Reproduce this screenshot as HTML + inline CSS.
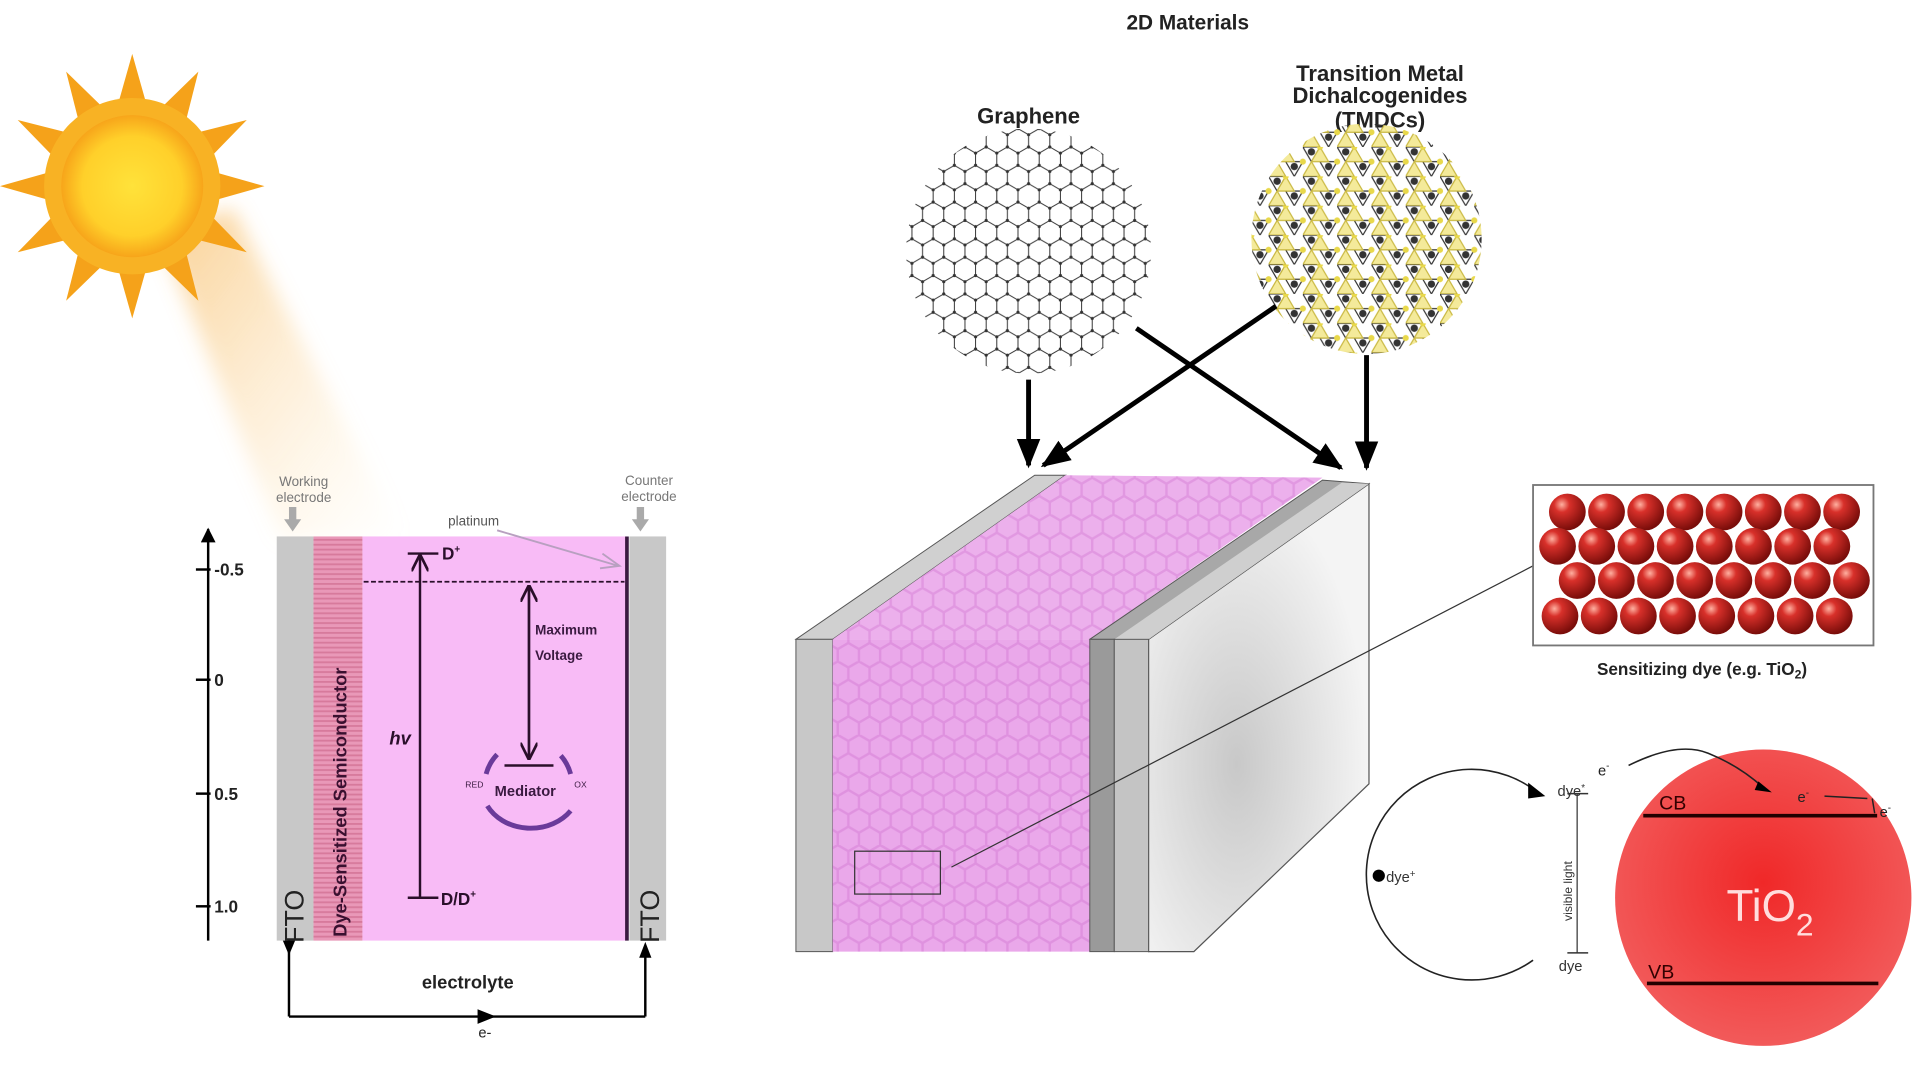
<!DOCTYPE html>
<html><head><meta charset="utf-8"><style>
html,body{margin:0;padding:0;background:#fff;}
svg{display:block;}
text{font-family:"Liberation Sans",sans-serif;}
</style></head><body>
<svg width="1920" height="1079" viewBox="0 0 1568 881" preserveAspectRatio="none" xmlns="http://www.w3.org/2000/svg">
<defs>
<radialGradient id="sunc" cx="50%" cy="50%" r="50%"><stop offset="0" stop-color="#ffe23a"/><stop offset="0.7" stop-color="#ffd02a"/><stop offset="1" stop-color="#f7a51a"/></radialGradient>
<linearGradient id="beam" x1="0" y1="0" x2="1" y2="1"><stop offset="0" stop-color="#f6b04a" stop-opacity="0.6"/><stop offset="1" stop-color="#fde2b0" stop-opacity="0"/></linearGradient>
<filter id="blur"><feGaussianBlur stdDeviation="8"/></filter>
<pattern id="hex" width="17.32" height="30" patternUnits="userSpaceOnUse">
<path d="M0,5 L8.66,0 L17.32,5 M0,5 L0,15 L8.66,20 L17.32,15 M8.66,20 L8.66,30 M17.32,5 L17.32,15" fill="none" stroke="#333" stroke-width="0.8"/>
<circle cx="0" cy="5" r="1.3" fill="#333"/><circle cx="8.66" cy="0" r="1.3" fill="#333"/><circle cx="17.32" cy="5" r="1.3" fill="#333"/><circle cx="0" cy="15" r="1.3" fill="#333"/><circle cx="8.66" cy="20" r="1.3" fill="#333"/><circle cx="17.32" cy="15" r="1.3" fill="#333"/><circle cx="8.66" cy="30" r="1.3" fill="#333"/>
</pattern>
<pattern id="hexp" width="17.32" height="30" patternUnits="userSpaceOnUse">
<path d="M0,5 L8.66,0 L17.32,5 M0,5 L0,15 L8.66,20 L17.32,15 M8.66,20 L8.66,30 M17.32,5 L17.32,15" fill="none" stroke="#c050c0" stroke-width="2" stroke-opacity="0.25"/>
</pattern>
<pattern id="tmd" width="28" height="24" patternUnits="userSpaceOnUse">
<path d="M0,0 L14,0 L7,12 Z M14,12 L28,12 L21,24 Z" fill="none" stroke="#333" stroke-width="1"/>
<path d="M7,12 L14,0 L21,12 Z M0,24 L7,12 L14,24Z" fill="#f4ea9a" stroke="#c9b840" stroke-width="1"/>
<circle cx="7" cy="4" r="3" fill="#333"/><circle cx="21" cy="16" r="3" fill="#333"/>
<circle cx="14" cy="0" r="2.5" fill="#e8d84a"/><circle cx="0" cy="12" r="2.5" fill="#e8d84a"/><circle cx="28" cy="12" r="2.5" fill="#e8d84a"/>
</pattern>
<pattern id="stripe" width="4" height="4" patternUnits="userSpaceOnUse"><rect width="4" height="4" fill="#e998b8"/><rect width="4" height="1.5" fill="#d77a9c"/></pattern>
<radialGradient id="ball" cx="35%" cy="30%" r="70%"><stop offset="0" stop-color="#ffb0a0"/><stop offset="0.3" stop-color="#d8302a"/><stop offset="1" stop-color="#7a0d0a"/></radialGradient>
<radialGradient id="tio" cx="50%" cy="45%" r="55%"><stop offset="0" stop-color="#f02828"/><stop offset="1" stop-color="#f25a5a"/></radialGradient>
<radialGradient id="side" cx="40%" cy="60%" r="60%"><stop offset="0" stop-color="#c8c8c8"/><stop offset="1" stop-color="#f4f4f4"/></radialGradient>
<clipPath id="gc"><circle cx="840" cy="205" r="100"/></clipPath>
<clipPath id="tc"><circle cx="1116" cy="195" r="94"/></clipPath>
<marker id="ah" viewBox="0 0 10 10" refX="9" refY="5" markerWidth="6" markerHeight="6" orient="auto"><path d="M0,0 L10,5 L0,10 Z" fill="#000"/></marker>
<marker id="ahs" viewBox="0 0 10 10" refX="9" refY="5" markerWidth="6" markerHeight="6" orient="auto"><path d="M0,1 L10,5 L0,9 Z" fill="#000"/></marker>
<marker id="ao" viewBox="0 0 10 10" refX="9" refY="5" markerWidth="7" markerHeight="7" orient="auto"><path d="M0,0 L10,5 L0,10" fill="none" stroke="#2a0f2a" stroke-width="1.6"/></marker>
</defs>

<!-- beam -->
<polygon points="130,190 190,170 330,440 230,440" fill="url(#beam)" filter="url(#blur)"/>
<!-- sun -->
<g transform="translate(108,152)">
<g fill="#f5a21a">
<polygon points="0,-108 13,-62 -13,-62" transform="rotate(0)"/>
<polygon points="0,-108 13,-62 -13,-62" transform="rotate(30)"/>
<polygon points="0,-108 13,-62 -13,-62" transform="rotate(60)"/>
<polygon points="0,-108 13,-62 -13,-62" transform="rotate(90)"/>
<polygon points="0,-108 13,-62 -13,-62" transform="rotate(120)"/>
<polygon points="0,-108 13,-62 -13,-62" transform="rotate(150)"/>
<polygon points="0,-108 13,-62 -13,-62" transform="rotate(180)"/>
<polygon points="0,-108 13,-62 -13,-62" transform="rotate(210)"/>
<polygon points="0,-108 13,-62 -13,-62" transform="rotate(240)"/>
<polygon points="0,-108 13,-62 -13,-62" transform="rotate(270)"/>
<polygon points="0,-108 13,-62 -13,-62" transform="rotate(300)"/>
<polygon points="0,-108 13,-62 -13,-62" transform="rotate(330)"/>
</g>
<circle r="72" fill="#f8b224"/>
<circle r="58" fill="url(#sunc)"/>
</g>

<!-- left diagram -->
<line x1="170" y1="768" x2="170" y2="432" stroke="#000" stroke-width="2" marker-end="url(#ah)"/>
<g stroke="#000" stroke-width="2"><line x1="160" y1="465" x2="172" y2="465"/><line x1="160" y1="555" x2="172" y2="555"/><line x1="160" y1="648" x2="172" y2="648"/><line x1="160" y1="740" x2="172" y2="740"/></g>
<g font-size="14" font-weight="bold" fill="#222"><text x="175" y="470">-0.5</text><text x="175" y="560">0</text><text x="175" y="653">0.5</text><text x="175" y="745">1.0</text></g>
<rect x="226" y="438" width="30" height="330" fill="#c8c8c8"/>
<rect x="256" y="438" width="40" height="330" fill="url(#stripe)"/>
<rect x="296" y="438" width="216" height="330" fill="#f8bbf6"/>
<rect x="514" y="438" width="30" height="330" fill="#c8c8c8"/>
<line x1="512" y1="438" x2="512" y2="768" stroke="#3a1a40" stroke-width="3"/>
<text transform="translate(283,765) rotate(-90)" font-size="15" font-weight="bold" fill="#3a1030">Dye-Sensitized Semiconductor</text>
<text transform="translate(248,770) rotate(-90)" font-size="22" fill="#222">FTO</text>
<text transform="translate(538,770) rotate(-90)" font-size="22" fill="#222">FTO</text>
<g font-size="11" fill="#777" text-anchor="middle"><text x="248" y="397">Working</text><text x="248" y="410">electrode</text><text x="530" y="396">Counter</text><text x="530" y="409">electrode</text></g>
<g fill="#aaa"><polygon points="236,414 242,414 242,424 246,424 239,434 232,424 236,424"/><polygon points="520,414 526,414 526,424 530,424 523,434 516,424 520,424"/></g>
<text x="366" y="429" font-size="11" fill="#555">platinum</text>
<line x1="406" y1="433" x2="505" y2="462" stroke="#b8a0c0" stroke-width="1.5"/><path d="M492,452 L506,462 L490,464" fill="none" stroke="#b8a0c0" stroke-width="1.5"/>
<line x1="333" y1="452" x2="358" y2="452" stroke="#2a0f2a" stroke-width="2"/>
<line x1="333" y1="733" x2="358" y2="733" stroke="#2a0f2a" stroke-width="2"/>
<line x1="343" y1="733" x2="343" y2="454" stroke="#2a0f2a" stroke-width="2" marker-end="url(#ao)"/>
<text x="361" y="457" font-size="14" font-weight="bold" fill="#2a0f2a">D<tspan font-size="8" dy="-6">+</tspan></text>
<text x="360" y="739" font-size="14" font-weight="bold" fill="#2a0f2a">D/D<tspan font-size="8" dy="-6">+</tspan></text>
<text x="318" y="608" font-size="15" font-style="italic" font-weight="bold" fill="#2a0f2a">hv</text>
<line x1="297" y1="475" x2="510" y2="475" stroke="#2a0f2a" stroke-width="1.5" stroke-dasharray="4,2"/>
<line x1="432" y1="620" x2="432" y2="479" stroke="#2a0f2a" stroke-width="2" marker-end="url(#ao)"/>
<line x1="432" y1="480" x2="432" y2="619" stroke="#2a0f2a" stroke-width="2" marker-end="url(#ao)"/>
<line x1="412" y1="625" x2="452" y2="625" stroke="#2a0f2a" stroke-width="2"/>
<text x="437" y="518" font-size="11" font-weight="bold" fill="#3a1a40">Maximum</text>
<text x="437" y="539" font-size="11" font-weight="bold" fill="#3a1a40">Voltage</text>
<text x="404" y="650" font-size="12" font-weight="bold" fill="#3a1a40">Mediator</text>
<text x="380" y="643" font-size="7" fill="#3a1a40">RED</text><text x="469" y="643" font-size="7" fill="#3a1a40">OX</text>
<path d="M458,617 A37,37 0 0 1 466,632" fill="none" stroke="#6a3a9a" stroke-width="4"/>
<path d="M406,616 A37,37 0 0 0 397,632" fill="none" stroke="#6a3a9a" stroke-width="4"/>
<path d="M398,658 A40,34 0 0 0 466,662" fill="none" stroke="#6a3a9a" stroke-width="4"/>
<line x1="236" y1="768" x2="236" y2="830" stroke="#000" stroke-width="2"/><polygon points="231,768 241,768 236,780" fill="#000"/>
<line x1="236" y1="830" x2="527" y2="830" stroke="#000" stroke-width="2"/>
<polygon points="390,824 405,830 390,836" fill="#000"/>
<line x1="527" y1="830" x2="527" y2="772" stroke="#000" stroke-width="2"/><polygon points="522,782 532,782 527,769" fill="#000"/>
<text x="382" y="807" font-size="15" font-weight="bold" text-anchor="middle" fill="#222">electrolyte</text>
<text x="396" y="847" font-size="12" text-anchor="middle" fill="#222">e-</text>

<!-- titles -->
<text x="970" y="24" font-size="17" font-weight="bold" text-anchor="middle" fill="#222">2D Materials</text>
<text x="840" y="101" font-size="18" font-weight="bold" text-anchor="middle" fill="#222">Graphene</text>
<g font-size="18" font-weight="bold" text-anchor="middle" fill="#222"><text x="1127" y="66">Transition Metal</text><text x="1127" y="84">Dichalcogenides</text><text x="1127" y="104">(TMDCs)</text></g>

<!-- graphene & tmdc -->
<g clip-path="url(#gc)"><rect x="735" y="100" width="210" height="210" fill="url(#hex)"/></g>
<g clip-path="url(#tc)"><rect x="1020" y="100" width="195" height="195" fill="url(#tmd)"/></g>

<!-- arrows -->
<g stroke="#000" stroke-width="4" marker-end="url(#ahs)">
<line x1="840" y1="310" x2="840" y2="380"/>
<line x1="928" y1="268" x2="1095" y2="382"/>
<line x1="1042" y1="250" x2="852" y2="380"/>
<line x1="1116" y1="290" x2="1116" y2="382"/>
</g>

<!-- 3D box -->
<polygon points="938,522 1118,395 1118,640 975,777 938,777" fill="url(#side)" stroke="#555" stroke-width="1"/>
<polygon points="650,522 680,522 870,388 845,388" fill="#d0d0d0" stroke="#555" stroke-width="0.8"/>
<polygon points="680,522 890,522 1080,390 870,388" fill="#ecb0ec"/>
<polygon points="680,522 890,522 1080,390 870,388" fill="url(#hexp)"/>
<polygon points="890,522 938,522 1118,395 1080,392" fill="#a8a8a8" stroke="#555" stroke-width="0.8"/>
<polygon points="910,522 938,522 1118,395 1096,394" fill="#cfcfcf"/>
<rect x="650" y="522" width="30" height="255" fill="#c8c8c8" stroke="#555" stroke-width="0.8"/>
<rect x="680" y="522" width="210" height="255" fill="#eaa8ea"/>
<rect x="680" y="522" width="210" height="255" fill="url(#hexp)"/>
<rect x="890" y="522" width="20" height="255" fill="#9a9a9a" stroke="#555" stroke-width="0.8"/>
<rect x="910" y="522" width="28" height="255" fill="#c4c4c4" stroke="#555" stroke-width="0.8"/>
<rect x="698" y="695" width="70" height="35" fill="none" stroke="#333" stroke-width="1"/>
<line x1="777" y1="708" x2="1252" y2="462" stroke="#333" stroke-width="1"/>

<!-- sensitizing dye -->
<rect x="1252" y="396" width="278" height="131" fill="#fff" stroke="#777" stroke-width="1.5"/>
<g fill="url(#ball)">
<circle cx="1280" cy="418" r="15"/><circle cx="1312" cy="418" r="15"/><circle cx="1344" cy="418" r="15"/><circle cx="1376" cy="418" r="15"/><circle cx="1408" cy="418" r="15"/><circle cx="1440" cy="418" r="15"/><circle cx="1472" cy="418" r="15"/><circle cx="1504" cy="418" r="15"/>
<circle cx="1272" cy="446" r="15"/><circle cx="1304" cy="446" r="15"/><circle cx="1336" cy="446" r="15"/><circle cx="1368" cy="446" r="15"/><circle cx="1400" cy="446" r="15"/><circle cx="1432" cy="446" r="15"/><circle cx="1464" cy="446" r="15"/><circle cx="1496" cy="446" r="15"/>
<circle cx="1288" cy="474" r="15"/><circle cx="1320" cy="474" r="15"/><circle cx="1352" cy="474" r="15"/><circle cx="1384" cy="474" r="15"/><circle cx="1416" cy="474" r="15"/><circle cx="1448" cy="474" r="15"/><circle cx="1480" cy="474" r="15"/><circle cx="1512" cy="474" r="15"/>
<circle cx="1274" cy="503" r="15"/><circle cx="1306" cy="503" r="15"/><circle cx="1338" cy="503" r="15"/><circle cx="1370" cy="503" r="15"/><circle cx="1402" cy="503" r="15"/><circle cx="1434" cy="503" r="15"/><circle cx="1466" cy="503" r="15"/><circle cx="1498" cy="503" r="15"/>
</g>
<text x="1390" y="551" font-size="14" font-weight="bold" text-anchor="middle" fill="#222">Sensitizing dye (e.g. TiO<tspan font-size="10" dy="3">2</tspan><tspan dy="-3">)</tspan></text>

<!-- TiO2 -->
<circle cx="1440" cy="733" r="121" fill="url(#tio)"/>
<line x1="1342" y1="666" x2="1533" y2="666" stroke="#200" stroke-width="3"/>
<line x1="1345" y1="803" x2="1534" y2="803" stroke="#200" stroke-width="3"/>
<text x="1355" y="661" font-size="16" fill="#300">CB</text>
<text x="1346" y="799" font-size="16" fill="#300">VB</text>
<text x="1410" y="752" font-size="36" fill="#fdd">TiO<tspan font-size="26" dy="12">2</tspan></text>
<path d="M1258,649 A86,86 0 1 0 1252,784" fill="none" stroke="#222" stroke-width="1.3"/>
<polygon points="1248,639 1262,650 1248,652" fill="#000"/>
<circle cx="1126" cy="715" r="5" fill="#000"/>
<text x="1132" y="720" font-size="12" fill="#333">dye<tspan font-size="8" dy="-4">+</tspan></text>
<line x1="1288" y1="648" x2="1288" y2="778" stroke="#333" stroke-width="1"/>
<line x1="1280" y1="648" x2="1297" y2="648" stroke="#333" stroke-width="1.2"/><line x1="1280" y1="778" x2="1297" y2="778" stroke="#333" stroke-width="1.2"/>
<text x="1272" y="650" font-size="12" fill="#333">dye<tspan font-size="8" dy="-4">*</tspan></text>
<text x="1273" y="793" font-size="12" fill="#333">dye</text>
<text transform="translate(1284,752) rotate(-90)" font-size="10" fill="#333">visible light</text>
<text x="1305" y="633" font-size="12" fill="#222">e<tspan font-size="8" dy="-5">-</tspan></text>
<path d="M1330,625 Q1370,605 1395,615 Q1420,625 1440,643" fill="none" stroke="#222" stroke-width="1.3"/>
<polygon points="1436,638 1447,647 1433,645" fill="#000"/>
<text x="1468" y="655" font-size="12" fill="#222">e<tspan font-size="8" dy="-5">-</tspan></text>
<line x1="1490" y1="650" x2="1525" y2="652" stroke="#222" stroke-width="1.2"/>
<line x1="1529" y1="652" x2="1531" y2="664" stroke="#222" stroke-width="1.2"/>
<text x="1535" y="667" font-size="12" fill="#222">e<tspan font-size="8" dy="-5">-</tspan></text>
</svg>
</body></html>
